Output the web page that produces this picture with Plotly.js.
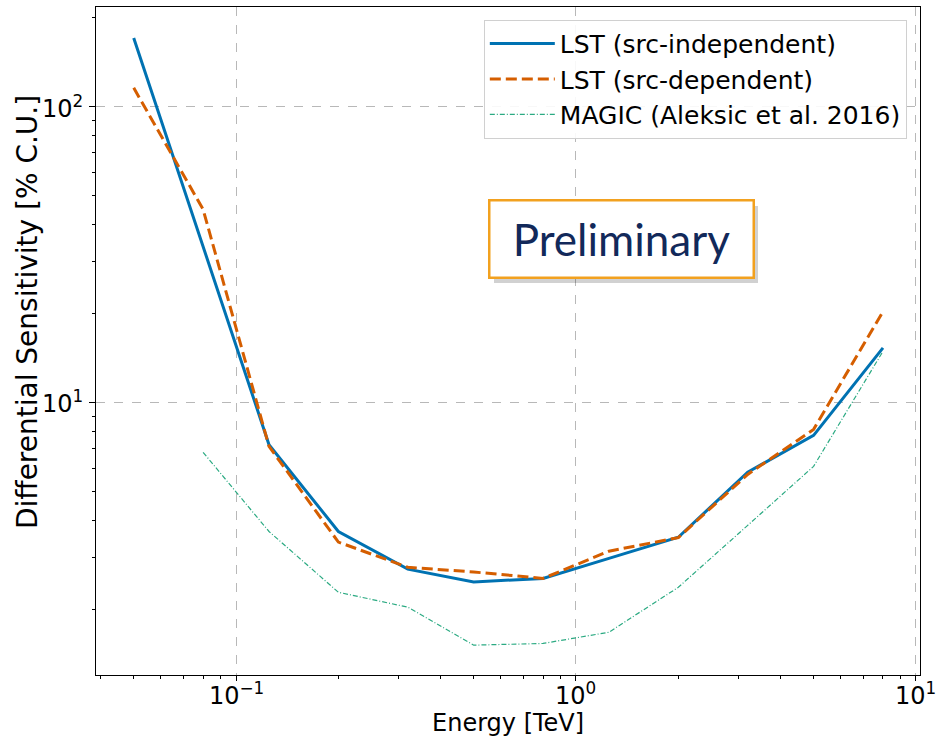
<!DOCTYPE html>
<html>
<head>
<meta charset="utf-8">
<script src="https://cdn.plot.ly/plotly-3.0.1.min.js"></script>
<style>html,body{margin:0;padding:0;background:#fff;}#chart{width:939px;height:738px;}</style>
</head>
<body>
<div id="chart"></div>
<script>
// Energy bins [TeV]
const energy = [0.05, 0.08, 0.125, 0.2, 0.32, 0.5, 0.8, 1.25, 2, 3.2, 5, 8];
// LST differential sensitivity [% C.U.]
const lstIndependent = [171, 33.5, 7.2, 3.66, 2.73, 2.47, 2.54, 2.97, 3.50, 5.81, 7.74, 15.3];
const lstDependent   = [116, 45, 7.1, 3.37, 2.77, 2.67, 2.54, 3.14, 3.49, 5.71, 8.11, 20.3];
// MAGIC (Aleksic et al. 2016)
const magicEnergy = [0.08, 0.125, 0.2, 0.32, 0.5, 0.8, 1.25, 2, 3.2, 5, 8];
const magicSens   = [6.78, 3.66, 2.28, 2.03, 1.51, 1.53, 1.67, 2.37, 3.84, 6.08, 14.9];

const seriesNames = ['LST (src-independent)', 'LST (src-dependent)', 'MAGIC (Aleksic et al. 2016)'];
const xTickVals = [0.1, 1, 10];
const xTickText = ['10<sup>−1</sup>', '10<sup>0</sup>', '10<sup>1</sup>'];
const yTickVals = [10, 100];
const yTickText = ['10<sup>1</sup>', '10<sup>2</sup>'];

function minorLog(lo, hi) {
  const out = [];
  for (let d = lo; d <= hi; d++) {
    for (let m = 2; m <= 9; m++) out.push(m * Math.pow(10, d));
  }
  return out;
}

const traces = [
  {x: energy, y: lstIndependent, name: seriesNames[0], mode: 'lines', legendgroup: 'a',
   line: {color: '#0072B2', width: 3}},
  {x: energy, y: lstDependent, name: seriesNames[1], mode: 'lines', legendgroup: 'b',
   line: {color: '#D55E00', width: 3, dash: '11px,5px'}},
  {x: magicEnergy, y: magicSens, name: seriesNames[2], mode: 'lines', legendgroup: 'c',
   line: {color: '#2BAA82', width: 1.2, dash: '5px,2px,1px,2px'}}
];

const fontFam = 'DejaVu Sans, sans-serif';
const tickFont = {family: fontFam, size: 24, color: '#000'};

// tick labels drawn as text annotations at the axis tick values
const tickAnnotations = [];
xTickVals.forEach((v, i) => tickAnnotations.push({
  xref: 'x', yref: 'paper', x: Math.log10(v), y: -(694 - 675) / 668,
  xanchor: 'center', yanchor: 'middle', showarrow: false, text: xTickText[i], font: tickFont
}));
yTickVals.forEach((v, i) => tickAnnotations.push({
  xref: 'paper', yref: 'y', x: (85 - 96) / 824, y: Math.log10(v),
  xanchor: 'right', yanchor: 'middle', showarrow: false, text: yTickText[i], font: tickFont
}));

const layout = {
  width: 939, height: 738,
  margin: {l: 96, r: 19, t: 7, b: 63},
  paper_bgcolor: '#fff', plot_bgcolor: '#fff',
  font: {family: fontFam, color: '#000', size: 20},
  showlegend: true,
  legend: {
    x: 0.984, y: 0.981, xanchor: 'right', yanchor: 'top',
    bgcolor: 'rgba(255,255,255,0.9)', bordercolor: '#d0d0d0', borderwidth: 1,
    font: {family: fontFam, size: 25, color: '#000'},
    tracegroupgap: 0, itemwidth: 65
  },
  xaxis: {
    type: 'log', range: [-1.412, 1.012],
    tickmode: 'array', tickvals: xTickVals, showticklabels: false,
    ticks: 'outside', ticklen: 5, tickwidth: 1, tickcolor: '#000',
    showline: true, mirror: true, linecolor: '#000', linewidth: 1,
    showgrid: true, gridcolor: '#b8b8b8', gridwidth: 1, griddash: 'dash',
    zeroline: false,
    minor: {tickmode: 'array', tickvals: minorLog(-2, 0), ticks: 'outside', ticklen: 3, tickcolor: '#000', showgrid: false}
  },
  yaxis: {
    type: 'log', range: [0.078, 2.338],
    tickmode: 'array', tickvals: yTickVals, showticklabels: false,
    ticks: 'outside', ticklen: 6, tickwidth: 1, tickcolor: '#000',
    showline: true, mirror: true, linecolor: '#000', linewidth: 1,
    showgrid: true, gridcolor: '#b8b8b8', gridwidth: 1, griddash: 'dash',
    zeroline: false,
    minor: {tickmode: 'array', tickvals: minorLog(0, 2), ticks: 'outside', ticklen: 3, tickcolor: '#000', showgrid: false}
  },
  shapes: [
    {type: 'rect', xref: 'paper', yref: 'paper', layer: 'above',
     x0: (494 - 96) / 824, x1: (758 - 96) / 824, y0: 1 - (283 - 7) / 668, y1: 1 - (206 - 7) / 668,
     fillcolor: 'rgba(0,0,0,0.18)', line: {width: 0}}
  ],
  annotations: tickAnnotations.concat([
    {xref: 'paper', yref: 'paper', x: (27 - 96) / 824, y: 1 - (312 - 7) / 668,
     xanchor: 'center', yanchor: 'middle', textangle: -90, showarrow: false,
     text: 'Differential Sensitivity [% C.U.]',
     font: {family: fontFam, size: 28, color: '#000'}},
    {xref: 'paper', yref: 'paper', x: 0.5, y: 1 - (723 - 7) / 668,
     xanchor: 'center', yanchor: 'middle', showarrow: false,
     text: 'Energy [TeV]',
     font: {family: fontFam, size: 24, color: '#000'}},
    {xref: 'paper', yref: 'paper', x: 0.638, y: 0.652, xanchor: 'center', yanchor: 'middle',
     text: 'Preliminary', showarrow: false,
     font: {family: 'Lato, Open Sans, sans-serif', size: 44, color: '#12295A'},
     bgcolor: '#fff', bordercolor: '#F2A11F', borderwidth: 2.5, borderpad: 2,
     width: 258, height: 71}
  ])
};

Plotly.newPlot('chart', traces, layout, {staticPlot: true, displayModeBar: false});
</script>
</body>
</html>
